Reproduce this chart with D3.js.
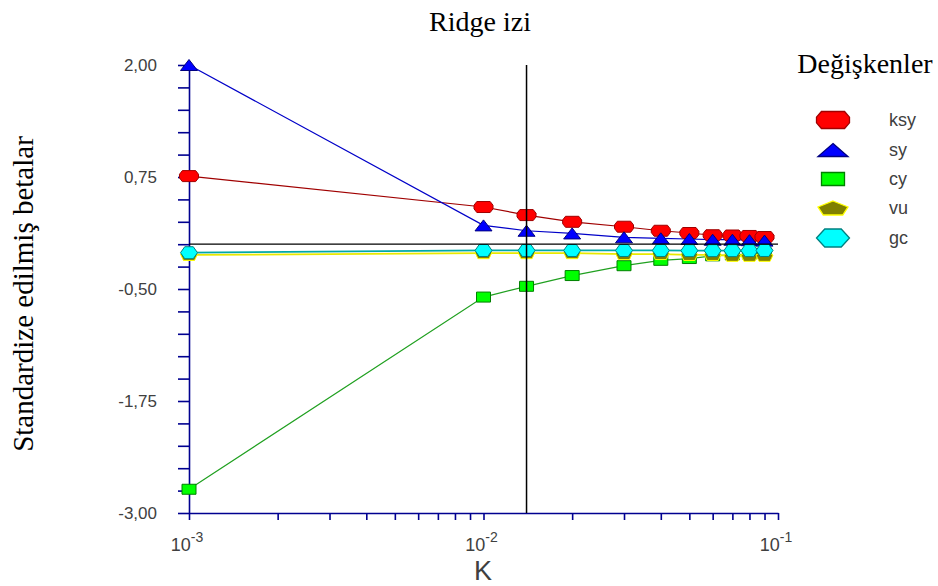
<!DOCTYPE html>
<html>
<head>
<meta charset="utf-8">
<script src="https://cdn.jsdelivr.net/npm/d3@7.9.0/dist/d3.min.js"></script>
<style>
  body { margin: 0; background: #fff; }
  .serif { font-family: "Liberation Serif", "Times New Roman", serif; fill: #000; }
  .sans  { font-family: "Liberation Sans", Arial, sans-serif; fill: #404040; }
</style>
</head>
<body>
<svg id="chart" width="938" height="586"></svg>
<script>
// K values (ridge parameter) and the standardized betas
const kValues = [0.001, 0.01, 0.014, 0.02, 0.03, 0.04, 0.05, 0.06, 0.07, 0.08, 0.09];
const ksy = [0.76, 0.415, 0.325, 0.25, 0.195, 0.15, 0.125, 0.10, 0.097, 0.092, 0.08];
const sy  = [2.00, 0.21, 0.15, 0.12, 0.077, 0.066, 0.058, 0.05, 0.05, 0.045, 0.04];
const cy  = [-2.735, -0.59, -0.47, -0.35, -0.24, -0.18, -0.16, -0.13, -0.12, -0.11, -0.10];
const vu  = [-0.12, -0.10, -0.10, -0.10, -0.11, -0.11, -0.12, -0.12, -0.13, -0.13, -0.13];
const gc  = [-0.095, -0.07, -0.07, -0.07, -0.07, -0.07, -0.072, -0.072, -0.072, -0.072, -0.07];
const chosenK = 0.014;

const yMajor = [2.00, 0.75, -0.50, -1.75, -3.00];
const xMajor = [{v: 0.001, e: '-3'}, {v: 0.01, e: '-2'}, {v: 0.1, e: '-1'}];

const seriesNames = ['ksy', 'sy', 'cy', 'vu', 'gc'];
const seriesValues = [ksy, sy, cy, vu, gc];

// shapes and colours per series
const style = {
  ksy: {shape: 'oct',  fill: '#ff0000', edge: '#a00000', line: '#a00000', w: 19, h: 11, lw: 33, lh: 17},
  sy : {shape: 'tri',  fill: '#0000ff', edge: '#000080', line: '#0000c8', w: 17, h: 11, lw: 30, lh: 13},
  cy : {shape: 'rect', fill: '#00ff00', edge: '#008000', line: '#20a020', w: 14, h: 10, lw: 23, lh: 13},
  vu : {shape: 'pent', fill: '#808000', edge: '#ffff00', line: '#e8e800', w: 17, h: 11, lw: 30, lh: 14},
  gc : {shape: 'hex',  fill: '#00ffff', edge: '#008080', line: '#00a8a8', w: 17, h: 12, lw: 33, lh: 18}
};

function shapePts (shape, w, h) {
  const a = w / 2, b = h / 2;
  switch (shape) {
    case 'oct':  return [[-a,-b/3],[-a*0.7,-b],[a*0.7,-b],[a,-b/3],[a,b/3],[a*0.7,b],[-a*0.7,b],[-a,b/3]];
    case 'tri':  return [[0,-b],[a,b],[-a,b]];
    case 'rect': return [[-a,-b],[a,-b],[a,b],[-a,b]];
    case 'pent': return [[0,-b],[a,-b*0.15],[a*0.65,b],[-a*0.65,b],[-a,-b*0.15]];
    case 'hex':  return [[-a,0],[-a/2,-b],[a/2,-b],[a,0],[a/2,b],[-a/2,b]];
  }
}
const poly = d3.line().curve(d3.curveLinearClosed);

const svg = d3.select('#chart');
const M = {l: 189, r: 778, t: 65, b: 513};

const x = d3.scaleLog().domain([0.001, 0.1]).range([M.l, M.r]);
const y = d3.scaleLinear().domain([-3, 2]).range([M.b, M.t]);

// y axis: minor ticks every 0.25, labels on majors
const yTicks = d3.range(0, 21).map(i => -3 + i * 0.25);
const fmt = d3.format('.2f');
const yAxis = svg.append('g')
  .attr('transform', `translate(${M.l},0)`)
  .call(d3.axisLeft(y).tickValues(yTicks).tickSize(11).tickSizeOuter(0).tickFormat(''));

yAxis.selectAll('path, line').attr('stroke', '#000090').attr('stroke-width', 1.6);

svg.append('g').selectAll('text')
  .data(yMajor)
  .join('text')
    .attr('class', 'sans')
    .attr('x', 157)
    .attr('y', d => y(d))
    .attr('dy', '0.36em')
    .attr('text-anchor', 'end')
    .style('font-size', '17px')
    .text(d => fmt(d).replace('.', ',').replace('\u2212', '-'));

// x axis: log ticks
const xTicks = [];
[0.001, 0.01].forEach(base => d3.range(1, 10).forEach(m => xTicks.push(base * m)));
xTicks.push(0.1);
const xAxis = svg.append('g')
  .attr('transform', `translate(0,${M.b})`)
  .call(d3.axisBottom(x).tickValues(xTicks).tickSize(7).tickSizeOuter(0).tickFormat(''));
xAxis.selectAll('path, line').attr('stroke', '#000090').attr('stroke-width', 1.6);

const xl = svg.append('g').selectAll('text')
  .data(xMajor)
  .join('text')
    .attr('class', 'sans')
    .attr('x', d => x(d.v) - 2)
    .attr('y', 551)
    .attr('text-anchor', 'middle')
    .style('font-size', '18px');
xl.append('tspan').text('10');
xl.append('tspan').attr('dy', -9).style('font-size', '14px').text(d => d.e);

// lines
const line = d3.line().x((d, i) => x(kValues[i])).y(d => y(d));
seriesNames.forEach((name, s) => {
  svg.append('path')
    .datum(seriesValues[s])
    .attr('d', line)
    .attr('fill', 'none')
    .attr('stroke', style[name].line)
    .attr('stroke-width', name === 'gc' || name === 'vu' ? 1.8 : 1.2);
});

// markers
seriesNames.forEach((name, s) => {
  const st = style[name];
  const pts = shapePts(st.shape, st.w, st.h);
  svg.append('g').selectAll('path')
    .data(seriesValues[s])
    .join('path')
      .attr('transform', (d, i) => `translate(${x(kValues[i])},${y(d)})`)
      .attr('d', poly(pts))
      .attr('fill', st.fill)
      .attr('stroke', st.edge)
      .attr('stroke-width', 1);
});

// reference lines: zero and chosen K
svg.append('line')
  .attr('x1', M.l).attr('x2', M.r)
  .attr('y1', y(0)).attr('y2', y(0))
  .attr('stroke', '#000').attr('stroke-width', 1.3);
svg.append('line')
  .attr('x1', x(chosenK)).attr('x2', x(chosenK))
  .attr('y1', M.t).attr('y2', M.b)
  .attr('stroke', '#000').attr('stroke-width', 1.5);

// titles
svg.append('text').attr('class', 'serif')
  .attr('x', 480).attr('y', 31).attr('text-anchor', 'middle')
  .style('font-size', '28px').text('Ridge izi');

svg.append('text').attr('class', 'serif')
  .attr('transform', 'translate(33,294) rotate(-90)')
  .attr('text-anchor', 'middle')
  .style('font-size', '29px').text('Standardize edilmiş betalar');

svg.append('text').attr('class', 'sans')
  .attr('x', 483).attr('y', 580).attr('text-anchor', 'middle')
  .style('font-size', '27px').text('K');

// legend
svg.append('text').attr('class', 'serif')
  .attr('x', 865).attr('y', 73).attr('text-anchor', 'middle')
  .style('font-size', '28px').text('Değişkenler');

const legY = [120, 150, 179, 208, 238];
const leg = svg.append('g').selectAll('g')
  .data(seriesNames)
  .join('g')
    .attr('transform', (d, i) => `translate(833,${legY[i]})`);
leg.append('path')
  .attr('d', d => poly(shapePts(style[d].shape, style[d].lw, style[d].lh)))
  .attr('fill', d => style[d].fill)
  .attr('stroke', d => style[d].edge)
  .attr('stroke-width', 1.3);
leg.append('text')
  .attr('class', 'sans')
  .attr('x', 56)
  .attr('y', 6)
  .style('font-size', '18px')
  .text(d => d);
</script>
</body>
</html>
